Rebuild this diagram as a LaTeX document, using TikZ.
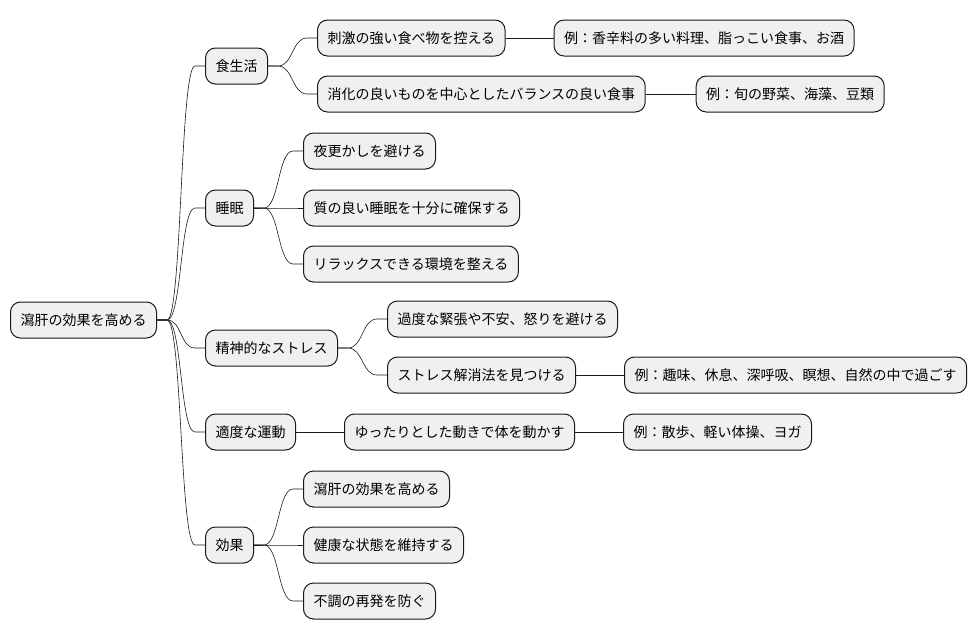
\documentclass[tikz,border=0pt]{standalone}
\usepackage{fontspec}
\setmainfont{Noto Sans CJK JP}
\usepackage{tikz}
\usetikzlibrary{positioning, calc}

\begin{document}
\begin{tikzpicture}[
    x=1pt, y=-1pt,
    node distance=48pt,
    topic/.style={draw=black!90, line width=1pt, rounded corners=10pt, fill=black!6,
        minimum height=36pt, inner xsep=10pt, anchor=west, font=\fontsize{14}{16}\selectfont},
    link/.style={black!90, line width=0.6pt},
    branch/.style={to path={-- ++(10,0) .. controls +(15,0) and ($(\tikztotarget)+(-25,0)$) .. ($(\tikztotarget)+(-10,0)$) -- (\tikztotarget)}}
]
\useasboundingbox (0,0) rectangle (978,640);

% Root
\node[topic] (root) at (10,320) {瀉肝の効果を高める};

% Main branches
\node[topic] (diet) at (205,66) {食生活};
\node[topic] (sleep) at (205,208) {睡眠};
\node[topic] (stress) at (205,348) {精神的なストレス};
\node[topic] (exercise) at (205,432) {適度な運動};
\node[topic] (effect) at (205,545) {効果};

% Diet
\node[topic] (d1) at (317,38) {刺激の強い食べ物を控える};
\node[topic] (d2) at (317,94) {消化の良いものを中心としたバランスの良い食事};
\node[topic, right=of d1] (d1ex) {例：香辛料の多い料理、脂っこい食事、お酒};
\node[topic, right=50pt of d2] (d2ex) {例：旬の野菜、海藻、豆類};

% Sleep
\node[topic] (s1) at (303,151) {夜更かしを避ける};
\node[topic] (s2) at (303,208) {質の良い睡眠を十分に確保する};
\node[topic] (s3) at (303,264) {リラックスできる環境を整える};

% Stress
\node[topic] (m1) at (387,319) {過度な緊張や不安、怒りを避ける};
\node[topic] (m2) at (387,375) {ストレス解消法を見つける};
\node[topic, right=of m2] (m2ex) {例：趣味、休息、深呼吸、瞑想、自然の中で過ごす};

% Exercise
\node[topic, right=48pt of exercise] (e1) {ゆったりとした動きで体を動かす};
\node[topic, right=of e1] (e1ex) {例：散歩、軽い体操、ヨガ};

% Effect
\node[topic] (f1) at (303,489) {瀉肝の効果を高める};
\node[topic] (f2) at (303,545) {健康な状態を維持する};
\node[topic] (f3) at (303,601) {不調の再発を防ぐ};

% Links
\foreach \t in {diet, sleep, stress, exercise, effect}
    \draw[link] (root.east) to[branch] (\t.west);
\foreach \t in {d1, d2}
    \draw[link] (diet.east) to[branch] (\t.west);
\foreach \t in {s1, s2, s3}
    \draw[link] (sleep.east) to[branch] (\t.west);
\foreach \t in {m1, m2}
    \draw[link] (stress.east) to[branch] (\t.west);
\foreach \t in {f1, f2, f3}
    \draw[link] (effect.east) to[branch] (\t.west);
\draw[link] (d1) -- (d1ex);
\draw[link] (d2) -- (d2ex);
\draw[link] (m2) -- (m2ex);
\draw[link] (exercise) -- (e1);
\draw[link] (e1) -- (e1ex);

\end{tikzpicture}
\end{document}
